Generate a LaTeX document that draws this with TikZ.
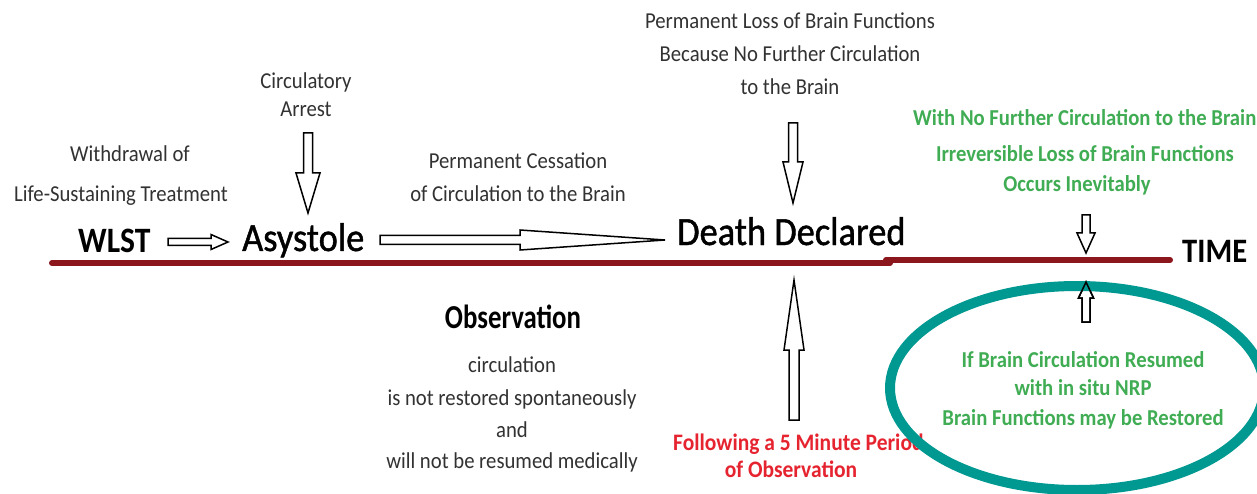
\documentclass[tikz,border=0pt]{standalone}
\usepackage{fontspec}
\setmainfont{Carlito}
\newfontfamily\medfont[FakeBold=1.2]{Carlito}
\usepackage{graphicx}
\usetikzlibrary{calc}
\definecolor{lineRed}{RGB}{139,22,28}
\definecolor{txtGreen}{RGB}{64,173,84}
\definecolor{txtRed}{RGB}{230,36,48}
\definecolor{ringTeal}{RGB}{0,153,146}
\definecolor{txtGray}{RGB}{50,50,50}
\newcommand\vsc[2][1.1]{\scalebox{1}[#1]{#2}}
\tikzset{
  smalltxt/.style={inner sep=0pt, anchor=base, text=txtGray, font=\fontsize{20.7}{24}\selectfont},
  bigtxt/.style={inner sep=0pt, anchor=base west, text=black, font=\medfont\fontsize{36.4}{40}\selectfont},
  greentxt/.style={inner sep=0pt, anchor=base, text=txtGreen, font=\bfseries\fontsize{20.7}{24}\selectfont},
  redtxt/.style={inner sep=0pt, anchor=base, text=txtRed, font=\bfseries\fontsize{21.5}{24}\selectfont},
  timeline/.style={draw=lineRed, line width=6pt, line cap=round},
  ring/.style={draw=ringTeal, line width=10pt},
  blockarrow/.style n args={3}{draw=black, line width=1.5pt, fill=white, line join=miter,
    to path={($(\tikztotarget)!#3!(\tikztostart)$) coordinate (hb)
      ($(\tikztostart)!#1!90:(\tikztotarget)$) -- ($(hb)!#1!-90:(\tikztostart)$)
      -- ($(hb)!#2!-90:(\tikztostart)$) -- (\tikztotarget)
      -- ($(hb)!#2!90:(\tikztostart)$) -- ($(hb)!#1!90:(\tikztostart)$)
      -- ($(\tikztostart)!#1!-90:(\tikztotarget)$) -- cycle}}
}
\begin{document}
\begin{tikzpicture}[x=1pt,y=-1pt]
\useasboundingbox (0,0) rectangle (1257,494);
\fill[white] (0,0) rectangle (1257,494);
% time line
\draw[timeline] (52,263) -- (890,263);
\draw[timeline] (886,260) -- (1170,260);
% main labels
\node[bigtxt, font=\bfseries\fontsize{31.6}{34}\selectfont] (wlst) at (78,252) {\vsc[1.13]{WLST}};
\node[bigtxt] (asys) at (242,251) {\vsc{Asystole}};
\node[bigtxt] (death) at (677,245) {\vsc{Death Declared}};
\node[bigtxt, font=\bfseries\fontsize{30.6}{34}\selectfont] (time) at (1182,262) {\vsc[1.12]{TIME}};
% small texts
\node[smalltxt] (wd1) at (130,162) {\vsc{Withdrawal of}};
\node[smalltxt] (wd2) at (121,202) {\vsc{Life-Sustaining Treatment}};
\node[smalltxt] (ca1) at (306,89) {\vsc{Circulatory}};
\node[smalltxt] (ca2) at (306,117) {\vsc{Arrest}};
\node[smalltxt] (pc1) at (518,169) {\vsc{Permanent Cessation}};
\node[smalltxt] (pc2) at (518,202) {\vsc{of Circulation to the Brain}};
\node[smalltxt] (pl1) at (790,29) {\vsc{Permanent Loss of Brain Functions}};
\node[smalltxt] (pl2) at (790,62) {\vsc{Because No Further Circulation}};
\node[smalltxt] (pl3) at (790,95) {\vsc{to the Brain}};
\node[smalltxt, text=black, font=\bfseries\fontsize{26.8}{30}\selectfont] (obs) at (513,328) {\vsc[1.25]{Observation}};
\node[smalltxt] (ob1) at (512,372) {\vsc{circulation}};
\node[smalltxt] (ob2) at (512,405) {\vsc{is not restored spontaneously}};
\node[smalltxt] (ob3) at (512,437) {\vsc{and}};
\node[smalltxt] (ob4) at (512,468) {\vsc{will not be resumed medically}};
% red texts
\node[redtxt, anchor=base west] (fo1) at (673,450) {\vsc{Following a 5 Minute Period}};
\node[redtxt] (fo2) at (791,477) {\vsc{of Observation}};
% green texts
\node[greentxt, anchor=base west] (gt1) at (913,126) {\vsc{With No Further Circulation to the Brain}};
\node[greentxt] (gt2) at (1085,162) {\vsc{Irreversible Loss of Brain Functions}};
\node[greentxt] (gt3) at (1077,192) {\vsc{Occurs Inevitably}};
\node[greentxt] (gr1) at (1083,367) {\vsc{If Brain Circulation Resumed}};
\node[greentxt] (gr2) at (1083,395) {\vsc{with in situ NRP}};
\node[greentxt] (gr3) at (1083,425) {\vsc{Brain Functions may be Restored}};
% arrows
\coordinate (a1s) at (168,242); \coordinate (a1e) at (228,242);
\draw[blockarrow={3.5pt}{7.5pt}{17pt}] (a1s) to (a1e);
\coordinate (a2s) at (308,133); \coordinate (a2e) at (308,213);
\draw[blockarrow={4.5pt}{12pt}{40pt}] (a2s) to (a2e);
\coordinate (a3s) at (380,240); \coordinate (a3e) at (665,240);
\draw[blockarrow={4.5pt}{10pt}{145pt}] (a3s) to (a3e);
\coordinate (a4s) at (793,123); \coordinate (a4e) at (793,203);
\draw[blockarrow={4.5pt}{10pt}{41pt}] (a4s) to (a4e);
\coordinate (a5s) at (794,420); \coordinate (a5e) at (794,280);
\draw[blockarrow={5pt}{10pt}{70pt}] (a5s) to (a5e);
\coordinate (a6s) at (1086,215); \coordinate (a6e) at (1086,253);
\draw[blockarrow={4pt}{9pt}{20pt}] (a6s) to (a6e);
\coordinate (a7s) at (1086,322); \coordinate (a7e) at (1086,282);
\draw[blockarrow={4pt}{7.5pt}{16pt}] (a7s) to (a7e);
% ring
\draw[ring] (1077,388) ellipse [x radius=187, y radius=102];
\draw[blockarrow={4pt}{7.5pt}{16pt}, fill=none] (a7s) to (a7e);
\end{tikzpicture}
\end{document}
